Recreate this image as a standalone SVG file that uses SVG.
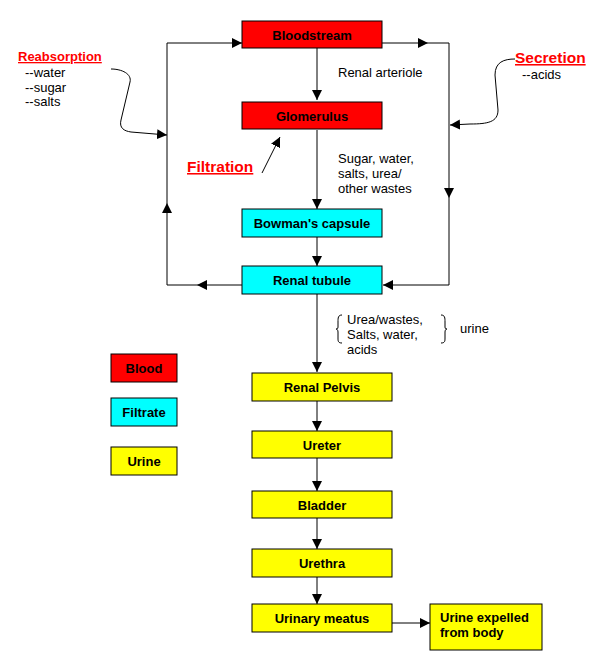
<svg xmlns="http://www.w3.org/2000/svg" width="597" height="670" viewBox="0 0 597 670">
<defs>
<marker id="ah" markerUnits="userSpaceOnUse" markerWidth="11" markerHeight="11" refX="10" refY="5" orient="auto">
<path d="M0,0 L10,5 L0,10 z" fill="#000"/>
</marker>
<style>
.box{stroke:#000;stroke-width:1}
.red{fill:#ff0000}
.cyan{fill:#00ffff}
.yel{fill:#ffff00}
.bl{font-family:"Liberation Sans",Arial,sans-serif;font-weight:bold;font-size:13px;fill:#000}
.nt{font-family:"Liberation Sans",Arial,sans-serif;font-size:13px;fill:#000}
.hd{font-family:"Liberation Sans",Arial,sans-serif;font-weight:bold;fill:#ff0000;text-decoration:underline}
.ln{fill:none;stroke:#000;stroke-width:1}
</style>
</defs>
<rect width="597" height="670" fill="#fff"/>

<g id="connectors" class="ln">
<path d="M317,48 V100" marker-end="url(#ah)"/>
<path d="M317,130 V209" marker-end="url(#ah)"/>
<path d="M317,237 V266" marker-end="url(#ah)"/>
<path d="M317,294 V372" marker-end="url(#ah)"/>
<path d="M317,401 V431" marker-end="url(#ah)"/>
<path d="M317,458 V491" marker-end="url(#ah)"/>
<path d="M317,518 V549" marker-end="url(#ah)"/>
<path d="M317,577 V604" marker-end="url(#ah)"/>
<path d="M392,623 H430" marker-end="url(#ah)"/>
<path d="M242,285 H197" marker-end="url(#ah)"/>
<path d="M197,285 H167 V203" marker-end="url(#ah)"/>
<path d="M167,203 V43 H242" marker-end="url(#ah)"/>
<path d="M382,43 H428" marker-end="url(#ah)"/>
<path d="M428,43 H449 V198" marker-end="url(#ah)"/>
<path d="M449,198 V285 H383" marker-end="url(#ah)"/>
<path d="M111,69 C122,69 132,74 130,82 L121,120 C119,128 124,131 131,132 L167,135" marker-end="url(#ah)"/>
<path d="M515,59 C504,59 495,62 495,75 L498,110 C498,122 488,124 470,124 L450,125" marker-end="url(#ah)"/>
<path d="M262,173 L280,137" marker-end="url(#ah)"/>
<path d="M342,315 C338,315 338,318 338,322 V327 C338,329 337,329 336,329 C337,329 338,330 338,332 V338 C338,341 338,343 342,343"/>
<path d="M441,315 C445,315 445,318 445,322 V327 C445,329 446,329 447,329 C446,329 445,330 445,332 V338 C445,341 445,343 441,343"/>
</g>

<g id="bloodstream"><rect class="box red" x="242" y="21" width="140" height="27"/><text class="bl" x="312" y="39.5" text-anchor="middle">Bloodstream</text></g>
<g id="glomerulus"><rect class="box red" x="242" y="102" width="140" height="27"/><text class="bl" x="312" y="120.5" text-anchor="middle">Glomerulus</text></g>
<g id="bowman"><rect class="box cyan" x="242" y="209" width="140" height="28"/><text class="bl" x="312" y="228" text-anchor="middle">Bowman's capsule</text></g>
<g id="tubule"><rect class="box cyan" x="242" y="266" width="140" height="28"/><text class="bl" x="312" y="285" text-anchor="middle">Renal tubule</text></g>
<g id="pelvis"><rect class="box yel" x="252" y="373" width="140" height="28"/><text class="bl" x="322" y="392" text-anchor="middle">Renal Pelvis</text></g>
<g id="ureter"><rect class="box yel" x="252" y="431" width="140" height="27"/><text class="bl" x="322" y="449.5" text-anchor="middle">Ureter</text></g>
<g id="bladder"><rect class="box yel" x="252" y="491" width="140" height="27"/><text class="bl" x="322" y="509.5" text-anchor="middle">Bladder</text></g>
<g id="urethra"><rect class="box yel" x="252" y="549" width="140" height="28"/><text class="bl" x="322" y="568" text-anchor="middle">Urethra</text></g>
<g id="meatus"><rect class="box yel" x="252" y="604" width="140" height="28"/><text class="bl" x="322" y="622.5" text-anchor="middle">Urinary meatus</text></g>
<g id="expelled"><rect class="box yel" x="430" y="604" width="112" height="46"/><text class="bl" x="440" y="622">Urine expelled</text><text class="bl" x="440" y="637">from body</text></g>

<g id="legend-blood"><rect class="box red" x="111" y="354" width="66" height="28"/><text class="bl" x="144" y="373" text-anchor="middle">Blood</text></g>
<g id="legend-filtrate"><rect class="box cyan" x="111" y="398" width="66" height="28"/><text class="bl" x="144" y="417" text-anchor="middle">Filtrate</text></g>
<g id="legend-urine"><rect class="box yel" x="111" y="447" width="66" height="28"/><text class="bl" x="144" y="466" text-anchor="middle">Urine</text></g>

<g id="reabsorption">
<text class="hd" x="18" y="61" font-size="13">Reabsorption</text>
<text class="nt" x="25" y="77">--water</text>
<text class="nt" x="25" y="92">--sugar</text>
<text class="nt" x="25" y="106">--salts</text>
</g>
<g id="secretion">
<text class="hd" x="515" y="63" font-size="15.5">Secretion</text>
<text class="nt" x="522" y="79">--acids</text>
</g>
<g id="filtration"><text class="hd" x="187" y="172" font-size="15.5">Filtration</text></g>

<g id="labels">
<text class="nt" x="338" y="77">Renal arteriole</text>
<text class="nt" x="338" y="163">Sugar, water,</text>
<text class="nt" x="338" y="178">salts, urea/</text>
<text class="nt" x="338" y="193">other wastes</text>
<text class="nt" x="347" y="324">Urea/wastes,</text>
<text class="nt" x="347" y="339">Salts, water,</text>
<text class="nt" x="347" y="354">acids</text>
<text class="nt" x="460" y="333">urine</text>
</g>
</svg>
